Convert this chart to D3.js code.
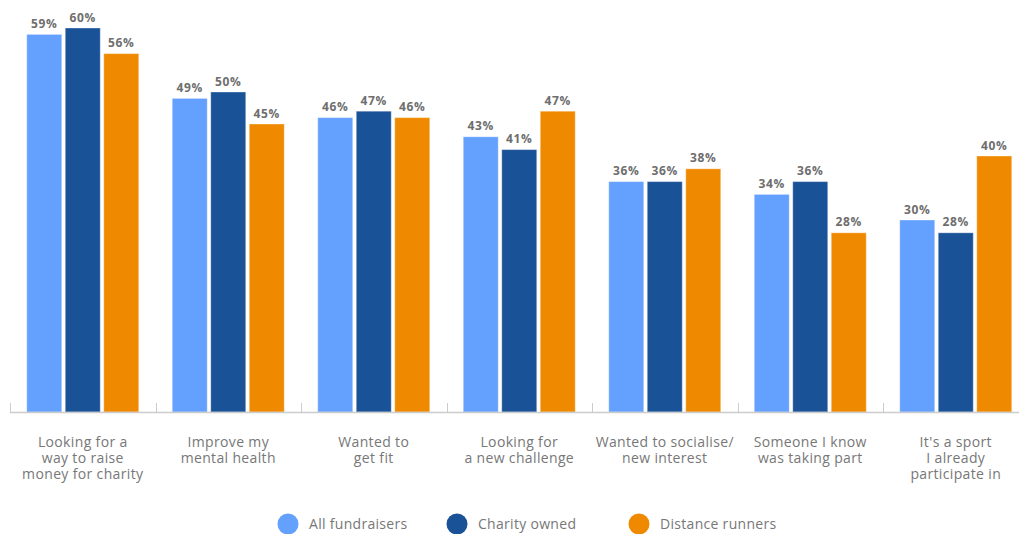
<!DOCTYPE html>
<html>
<head>
<meta charset="utf-8">
<script src="https://cdn.jsdelivr.net/npm/d3@7/dist/d3.min.js"></script>
<style>
  html, body { margin: 0; padding: 0; background: #fff; overflow: hidden; }
  svg { display: block; font-family: "Open Sans", "Noto Sans", sans-serif; }
</style>
</head>
<body>
<svg id="chart" width="1019" height="534"></svg>
<script>
// Motivations for taking part, by respondent group (% of respondents)
const categories = [
  ["Looking for a", "way to raise", "money for charity"],
  ["Improve my", "mental health"],
  ["Wanted to", "get fit"],
  ["Looking for", "a new challenge"],
  ["Wanted to socialise/", "new interest"],
  ["Someone I know", "was taking part"],
  ["It's a sport", "I already", "participate in"]
];
const seriesNames = ["All fundraisers", "Charity owned", "Distance runners"];
const allFundraisers  = [59, 49, 46, 43, 36, 34, 30];
const charityOwned    = [60, 50, 47, 41, 36, 36, 28];
const distanceRunners = [56, 45, 46, 47, 38, 28, 40];
const seriesColors = ["#64a0fd", "#1a5298", "#ef8a00"];

const seriesValues = [allFundraisers, charityOwned, distanceRunners];
const catKeys = categories.map((c, i) => i);

const svg = d3.select("#chart");

const x0 = d3.scaleBand().domain(catKeys).range([10, 1028.5]).padding(0);
const x1 = d3.scaleBand().domain(d3.range(seriesNames.length))
  .range([0, x0.bandwidth()]).paddingInner(0.091).paddingOuter(0.435);
const y = d3.scaleLinear().domain([0, 60]).range([412, 28]);

// bars
const groups = svg.append("g").selectAll("g")
  .data(catKeys).join("g")
  .attr("transform", d => `translate(${x0(d)},0)`);

groups.selectAll("rect")
  .data(ci => seriesValues.map((vals, si) => ({ si, v: vals[ci] })))
  .join("rect")
  .attr("x", d => x1(d.si))
  .attr("width", x1.bandwidth())
  .attr("y", d => y(d.v))
  .attr("height", d => y(0) - y(d.v))
  .attr("fill", d => seriesColors[d.si])
  .attr("stroke", "rgba(255,255,255,0.35)")
  .attr("stroke-width", 1);

// value labels
groups.selectAll("text.val")
  .data(ci => seriesValues.map((vals, si) => ({ si, v: vals[ci] })))
  .join("text")
  .attr("class", "val")
  .attr("x", d => x1(d.si) + x1.bandwidth() / 2)
  .attr("y", d => y(d.v) - 6.5)
  .attr("text-anchor", "middle")
  .attr("font-size", 12)
  .attr("font-weight", 700)
  .attr("letter-spacing", 0.7)
  .attr("fill", "#6e6e6e")
  .text(d => d.v + "%");

// x axis baseline with tick marks at category boundaries
const axis = svg.append("g");
axis.append("line")
  .attr("x1", x0.range()[0]).attr("x2", x0.range()[1])
  .attr("y1", y(0) + 0.5).attr("y2", y(0) + 0.5)
  .attr("stroke", "#ccc").attr("stroke-width", 1.5);
axis.selectAll("line.tick")
  .data(catKeys).join("line")
  .attr("class", "tick")
  .attr("x1", d => Math.round(x0(d)) + 0.5).attr("x2", d => Math.round(x0(d)) + 0.5)
  .attr("y1", y(0) - 9).attr("y2", y(0))
  .attr("stroke", "#ccc").attr("stroke-width", 1);

// category labels
axis.selectAll("text.cat")
  .data(catKeys).join("text")
  .attr("class", "cat")
  .attr("x", d => x0(d) + x0.bandwidth() / 2)
  .attr("y", 447)
  .attr("text-anchor", "middle")
  .attr("font-size", 14)
  .attr("letter-spacing", 0.35)
  .attr("fill", "#777")
  .each(function (d) {
    const t = d3.select(this);
    categories[d].forEach((line, i) => {
      t.append("tspan")
        .attr("x", x0(d) + x0.bandwidth() / 2)
        .attr("dy", i === 0 ? 0 : 16)
        .text(line);
    });
  });

// legend
const legendX = [288, 457, 639];
const legend = svg.append("g").selectAll("g")
  .data(seriesNames).join("g")
  .attr("transform", (d, i) => `translate(${legendX[i]},524)`);
legend.append("circle")
  .attr("r", 10.5)
  .attr("fill", (d, i) => seriesColors[i]);
legend.append("text")
  .attr("x", 21)
  .attr("y", 5)
  .attr("font-size", 14)
  .attr("letter-spacing", 0.3)
  .attr("fill", "#777")
  .text(d => d);
</script>
</body>
</html>
